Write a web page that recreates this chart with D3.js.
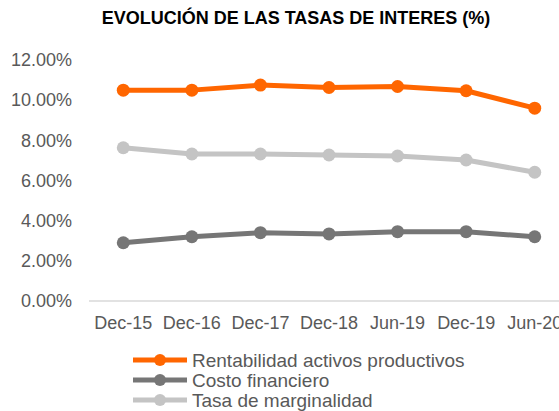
<!DOCTYPE html>
<html>
<head>
<meta charset="utf-8">
<script src="https://cdn.jsdelivr.net/npm/d3@7"></script>
<style>
  body { margin: 0; background: #fff; }
  svg { display: block; font-family: "Liberation Sans", Arial, sans-serif; }
</style>
</head>
<body>
<div id="chart"></div>
<script>
const categories = ["Dec-15", "Dec-16", "Dec-17", "Dec-18", "Jun-19", "Dec-19", "Jun-20"];
const rentabilidad = [10.5, 10.5, 10.75, 10.63, 10.68, 10.47, 9.6];
const costo = [2.9, 3.2, 3.4, 3.34, 3.45, 3.45, 3.2];
const marginalidad = [7.63, 7.32, 7.32, 7.27, 7.22, 7.02, 6.41];
const yTicks = [0, 2, 4, 6, 8, 10, 12];

const series = [
  { name: "Rentabilidad activos productivos", values: rentabilidad, color: "#ff6600" },
  { name: "Costo financiero", values: costo, color: "#767676" },
  { name: "Tasa de marginalidad", values: marginalidad, color: "#c4c4c4" }
];

const width = 559, height = 411;
const margin = { left: 89, right: -10, top: 60, bottom: 110 };

let svg = d3.select("#chart")
  .append("svg")
  .attr("width", width)
  .attr("height", height);

let x = d3.scaleBand()
  .domain(categories)
  .range([margin.left, width - margin.right]);

let y = d3.scaleLinear()
  .domain([0, 12])
  .range([height - margin.bottom, margin.top]);

// title
svg.append("text")
  .attr("x", 296)
  .attr("y", 24)
  .attr("text-anchor", "middle")
  .attr("font-size", "18px")
  .attr("font-weight", "bold")
  .attr("fill", "#000")
  .text("EVOLUCIÓN DE LAS TASAS DE INTERES (%)");

// y labels
svg.append("g")
  .selectAll("text")
  .data(yTicks)
  .join("text")
  .attr("x", 72)
  .attr("y", d => y(d))
  .attr("dy", "0.35em")
  .attr("text-anchor", "end")
  .attr("font-size", "18px")
  .attr("fill", "#595959")
  .text(d => d.toFixed(2) + "%");

// baseline
svg.append("line")
  .attr("x1", margin.left)
  .attr("x2", width)
  .attr("y1", y(0))
  .attr("y2", y(0))
  .attr("stroke", "#d9d9d9")
  .attr("stroke-width", 1.5);

// x labels
svg.append("g")
  .selectAll("text")
  .data(categories)
  .join("text")
  .attr("x", d => x(d) + x.bandwidth() / 2)
  .attr("y", y(0) + 28)
  .attr("text-anchor", "middle")
  .attr("font-size", "18px")
  .attr("fill", "#595959")
  .text(d => d);

let line = d3.line()
  .x((d, i) => x(categories[i]) + x.bandwidth() / 2)
  .y(d => y(d));

series.forEach(s => {
  let g = svg.append("g");
  g.append("path")
    .attr("d", line(s.values))
    .attr("fill", "none")
    .attr("stroke", s.color)
    .attr("stroke-width", 5)
    .attr("stroke-linejoin", "round");
  g.selectAll("circle")
    .data(s.values)
    .join("circle")
    .attr("cx", (d, i) => x(categories[i]) + x.bandwidth() / 2)
    .attr("cy", d => y(d))
    .attr("r", 6.5)
    .attr("fill", s.color);
});

// legend
let legend = svg.append("g")
  .selectAll("g")
  .data(series)
  .join("g")
  .attr("transform", (d, i) => `translate(133, ${360 + i * 20})`);

legend.append("line")
  .attr("x1", 0)
  .attr("x2", 54)
  .attr("stroke", d => d.color)
  .attr("stroke-width", 5);

legend.append("circle")
  .attr("cx", 27)
  .attr("r", 6)
  .attr("fill", d => d.color);

legend.append("text")
  .attr("x", 59)
  .attr("dy", "0.35em")
  .attr("font-size", "19px")
  .attr("fill", "#595959")
  .text(d => d.name);
</script>
</body>
</html>
